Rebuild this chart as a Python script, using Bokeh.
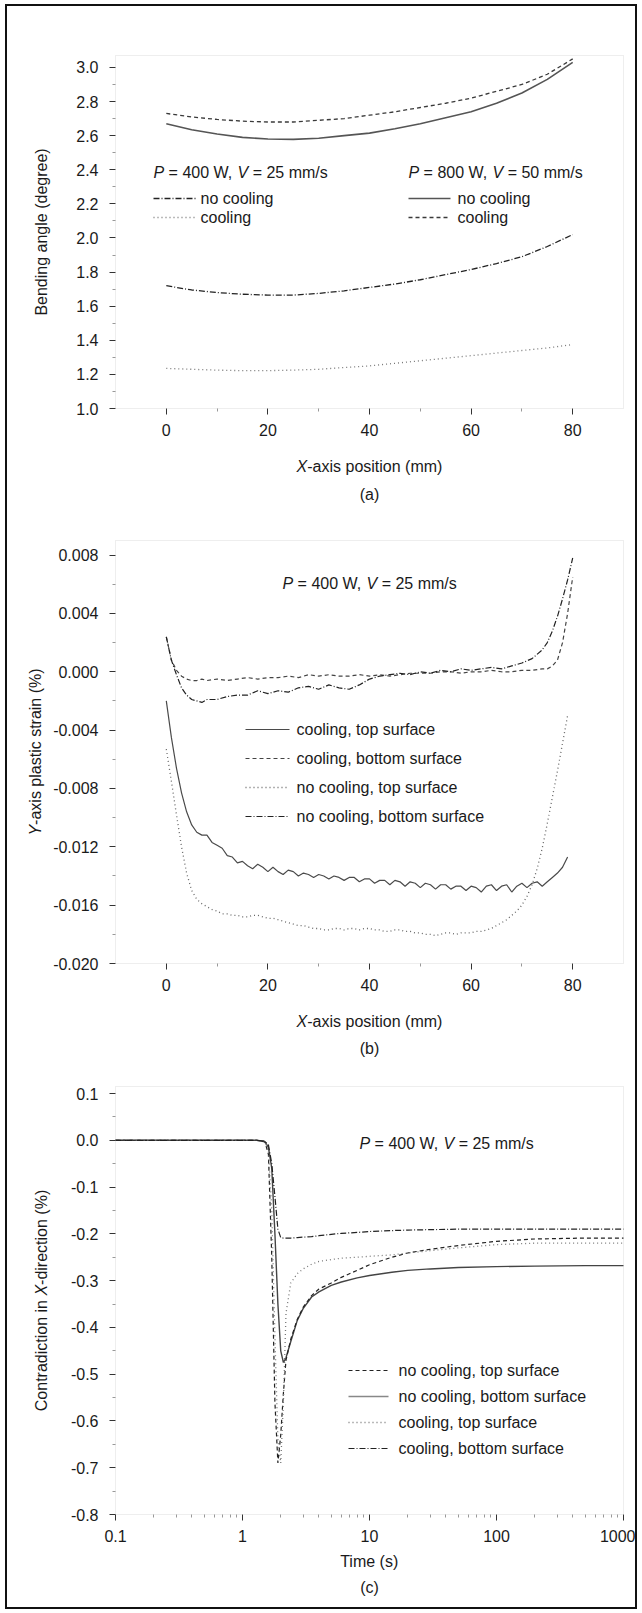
import math
from bokeh.plotting import figure
from bokeh.layouts import column
from bokeh.models import (Label, Range1d, FixedTicker, PrintfTickFormatter,
                          CustomJSTickFormatter, BoxAnnotation)
from bokeh.embed import file_html
from bokeh.resources import INLINE

FONT = "Liberation Sans"
FS = 16
TXT = "#1a1a1a"

# ---------------- data: panel (a) ----------------
xa = [0, 5, 10, 15, 20, 25, 30, 35, 40, 45, 50, 55, 60, 65, 70, 75, 80]
a_800_cool = [2.73, 2.71, 2.695, 2.685, 2.68, 2.68, 2.69, 2.70, 2.72, 2.74, 2.765, 2.79, 2.82, 2.86, 2.90, 2.96, 3.05]
a_800_nocool = [2.67, 2.635, 2.61, 2.59, 2.58, 2.578, 2.585, 2.60, 2.615, 2.64, 2.67, 2.705, 2.74, 2.79, 2.85, 2.93, 3.03]
a_400_nocool = [1.72, 1.695, 1.68, 1.67, 1.665, 1.665, 1.675, 1.69, 1.71, 1.73, 1.755, 1.785, 1.815, 1.85, 1.89, 1.95, 2.02]
a_400_cool = [1.235, 1.23, 1.225, 1.222, 1.222, 1.225, 1.23, 1.24, 1.25, 1.265, 1.28, 1.295, 1.31, 1.325, 1.34, 1.355, 1.375]
a_xticks = [0, 20, 40, 60, 80]
a_xminor = [10, 30, 50, 70]
a_yticks = [1.0, 1.2, 1.4, 1.6, 1.8, 2.0, 2.2, 2.4, 2.6, 2.8, 3.0]
a_yminor = [1.1, 1.3, 1.5, 1.7, 1.9, 2.1, 2.3, 2.5, 2.7, 2.9]

# ---------------- data: panel (b) ----------------
xb_up = [0, 1, 2, 3, 4, 5, 6, 7, 8,
         10, 12, 14, 16, 18, 20, 22, 24, 26, 28, 30, 32, 34, 36, 38, 40, 42, 44, 46, 48, 50,
         52, 54, 56, 58, 60, 62, 64, 66, 68, 70, 72, 74,
         75, 76, 77, 78, 79, 80]
b_cool_bottom = [0.0024, 0.0008, 0.0001, -0.0003, -0.0005, -0.0006, -0.0006, -0.0005, -0.0006,
                 -0.0005, -0.0006, -0.0005, -0.0004, -0.0005, -0.0004, -0.0004, -0.0003, -0.0004, -0.0002,
                 -0.0003, -0.0002, -0.0003, -0.0003, -0.0002, -0.0003, -0.0002, -0.0003, -0.0002, -0.0001,
                 -0.0001, -0.0001, 0.0, 0.0, -0.0001, 0.0, 0.0, 0.0001, 0.0, 0.0, 0.0001, 0.0001, 0.0002,
                 0.0002, 0.0004, 0.0008, 0.0020, 0.0040, 0.0065]
b_nocool_bottom = [0.0024, 0.0008, -0.0002, -0.0011, -0.0016, -0.0019, -0.0020, -0.0021, -0.0019,
                   -0.0019, -0.0017, -0.0016, -0.0016, -0.0013, -0.0015, -0.0013, -0.0014, -0.0011, -0.0010,
                   -0.0012, -0.0009, -0.0011, -0.0012, -0.0009, -0.0005, -0.0003, -0.0002, -0.0001, -0.0002,
                   0.0, -0.0001, 0.0001, 0.0, 0.0002, 0.0001, 0.0002, 0.0003, 0.0002, 0.0004, 0.0006, 0.0009,
                   0.0015, 0.0020, 0.0028, 0.0038, 0.0050, 0.0063, 0.0078]
xb_lo = list(range(0, 80))
b_cool_top = [-0.0020, -0.0045, -0.0066, -0.0083, -0.0096, -0.0105, -0.0110, -0.0112, -0.0112, -0.0117,
              -0.0119, -0.0121, -0.0126, -0.0127, -0.0131, -0.0130, -0.0133, -0.0135, -0.0132, -0.0134,
              -0.0137, -0.0134, -0.0137, -0.0139, -0.0136, -0.0137, -0.0140, -0.0138, -0.0139, -0.0141,
              -0.0139, -0.0140, -0.0142, -0.0140, -0.0141, -0.0143, -0.0141, -0.0141, -0.0144, -0.0142,
              -0.0142, -0.0145, -0.0143, -0.0143, -0.0146, -0.0143, -0.0144, -0.0147, -0.0144, -0.0145,
              -0.0148, -0.0145, -0.0146, -0.0149, -0.0146, -0.0146, -0.0149, -0.0147, -0.0147, -0.0150,
              -0.0147, -0.0148, -0.0151, -0.0147, -0.0146, -0.0150, -0.0147, -0.0146, -0.0151, -0.0147,
              -0.0145, -0.0148, -0.0145, -0.0144, -0.0147, -0.0144, -0.0141, -0.0138, -0.0134, -0.0127]
b_nocool_top = [-0.0053, -0.0075, -0.0098, -0.0120, -0.0138, -0.0150, -0.0156, -0.0159, -0.0161, -0.0163,
                -0.0164, -0.0166, -0.0166, -0.0167, -0.0167, -0.0168, -0.0168, -0.0167, -0.0167, -0.0168,
                -0.0169, -0.0169, -0.0170, -0.0171, -0.0172, -0.0173, -0.0174, -0.0174, -0.0175, -0.0176,
                -0.0176, -0.0177, -0.0177, -0.0176, -0.0176, -0.0177, -0.0176, -0.0176, -0.0177, -0.0176,
                -0.0176, -0.0177, -0.0177, -0.0178, -0.0178, -0.0177, -0.0177, -0.0178, -0.0178, -0.0179,
                -0.0179, -0.0180, -0.0180, -0.0181, -0.0180, -0.0179, -0.0179, -0.0180, -0.0179, -0.0179,
                -0.0179, -0.0178, -0.0178, -0.0177, -0.0176, -0.0174, -0.0172, -0.0170, -0.0167, -0.0164,
                -0.0160, -0.0154, -0.0146, -0.0135, -0.0121, -0.0104, -0.0086, -0.0068, -0.0049, -0.0030]
b_yticks = [-0.020, -0.016, -0.012, -0.008, -0.004, 0.000, 0.004, 0.008]
b_yminor = [-0.018, -0.014, -0.010, -0.006, -0.002, 0.002, 0.006]

# ---------------- data: panel (c) ----------------
tc = [0.1, 0.2, 0.5, 1.0, 1.3, 1.5, 1.6, 1.7, 1.8, 1.9, 2.0, 2.1, 2.2, 2.4, 2.7, 3.0, 3.5, 4.0,
      5.0, 6.0, 8.0, 10, 15, 20, 30, 50, 100, 200, 500, 1000]
c_nocool_top = [0, 0, 0, 0, 0, -0.003, -0.03, -0.25, -0.56, -0.69, -0.63, -0.54, -0.47, -0.425, -0.383,
                -0.357, -0.332, -0.318, -0.305, -0.293, -0.278, -0.266, -0.25, -0.241, -0.233, -0.225,
                -0.216, -0.211, -0.209, -0.209]
c_nocool_bottom = [0, 0, 0, 0, 0, -0.003, -0.015, -0.06, -0.20, -0.35, -0.45, -0.475, -0.465, -0.43,
                   -0.385, -0.36, -0.335, -0.324, -0.31, -0.303, -0.294, -0.289, -0.282, -0.278, -0.275,
                   -0.272, -0.270, -0.269, -0.268, -0.268]
c_cool_top = [0, 0, 0, 0, 0, -0.003, -0.02, -0.15, -0.42, -0.64, -0.69, -0.56, -0.37, -0.305, -0.285,
              -0.275, -0.265, -0.259, -0.255, -0.252, -0.25, -0.248, -0.245, -0.241, -0.236, -0.23,
              -0.223, -0.22, -0.22, -0.22]
c_cool_bottom = [0, 0, 0, 0, 0, -0.002, -0.01, -0.05, -0.12, -0.19, -0.208, -0.209, -0.209, -0.209,
                 -0.208, -0.207, -0.206, -0.204, -0.201, -0.199, -0.197, -0.195, -0.193, -0.192, -0.191,
                 -0.19, -0.19, -0.19, -0.19, -0.19]
c_xticks = [0.1, 1, 10, 100, 1000]
c_xminor = [m * d for d in (0.1, 1, 10, 100) for m in range(2, 10)]
c_yticks = [-0.8, -0.7, -0.6, -0.5, -0.4, -0.3, -0.2, -0.1, 0.0, 0.1]
c_yminor = [-0.75, -0.65, -0.55, -0.45, -0.35, -0.25, -0.15, -0.05, 0.05]

# ---------------- styles ----------------
SOLID = dict(line_dash="solid")
DASH = dict(line_dash="4 3")
DOT = dict(line_dash="1 3")
DASHDOT = dict(line_dash="6 2 1 2")
BOXC = "#8a8a8a"

AW = {' ': 278, '(': 333, ')': 333, '%': 889, ',': 278, '-': 333, '.': 278, '/': 278, '=': 584}
for _d in "0123456789":
    AW[_d] = 556
for _c, _w in zip("ABCDEFGHIJKLMNOPQRSTUVWXYZ",
                  [667, 667, 722, 722, 667, 611, 778, 722, 278, 500, 667, 556, 833, 722, 778, 667,
                   778, 722, 667, 611, 722, 667, 944, 667, 667, 611]):
    AW[_c] = _w
for _c, _w in zip("abcdefghijklmnopqrstuvwxyz",
                  [556, 556, 500, 556, 556, 278, 556, 556, 222, 222, 500, 222, 833, 556, 556, 556,
                   556, 333, 500, 278, 556, 500, 722, 500, 500, 500]):
    AW[_c] = _w


def tw(s, size=FS):
    return sum(AW.get(c, 556) for c in s) / 1000.0 * size


# page geometry: figure column starts at page x=7; every figure is FIGW wide
PX0 = 7
FIGW = 628


class Panel:
    """Maps page pixels to data, given the page position of the plot box."""

    def __init__(self, fig_top, fig_h, box, xlim, ylim, logx=False):
        self.fig_top, self.fig_h = fig_top, fig_h
        self.bl, self.br, self.bt, self.bb = box
        self.x0, self.x1 = xlim
        self.y0, self.y1 = ylim
        self.logx = logx

    def _fx(self, v):
        return math.log10(v) if self.logx else v

    def _ifx(self, v):
        return 10 ** v if self.logx else v

    def dx(self, px):
        a, b = self._fx(self.x0), self._fx(self.x1)
        return self._ifx(a + (px - self.bl) * (b - a) / (self.br - self.bl))

    def dy(self, py):
        return self.y0 + (self.bb - py) * (self.y1 - self.y0) / (self.bb - self.bt)

    def xrange(self):
        return Range1d(self.dx(PX0), self.dx(PX0 + FIGW))

    def yrange(self):
        return Range1d(self.dy(self.fig_top + self.fig_h), self.dy(self.fig_top))


def rich(p, P, parts, px, py, align="center", angle=0.0, size=FS):
    total = sum(tw(t, size) for t, _ in parts)
    off = -total / 2 if align == "center" else 0.0
    xd, yd = P.dx(px), P.dy(py)
    for t, it in parts:
        lead = len(t) - len(t.lstrip(" "))
        o = off + tw(" " * lead, size)
        kw = dict(x=xd, y=yd, text=t.strip(" "), text_align="left", text_baseline="middle",
                  text_font=FONT, text_font_size=f"{size}px", text_color=TXT,
                  text_font_style="italic" if it else "normal")
        if angle == 0:
            p.add_layout(Label(x_offset=o, y_offset=0, **kw))
        else:
            p.add_layout(Label(x_offset=0, y_offset=o, angle=angle, **kw))
        off += tw(t, size)


def sample(p, P, x0px, x1px, ypx, color, width, style):
    p.line([P.dx(x0px), P.dx(x1px)], [P.dy(ypx), P.dy(ypx)], line_color=color,
           line_width=width, **style)


def mkfig(P, xticks, xminor, yticks, yminor, yfmt, xtype="linear"):
    p = figure(width=FIGW, height=P.fig_h, min_border=0, x_range=P.xrange(), y_range=P.yrange(),
               x_axis_type=xtype, output_backend="svg", toolbar_location=None, tools="")
    p.title.visible = False
    p.grid.visible = False
    p.outline_line_color = None
    p.background_fill_color = "white"
    p.border_fill_color = "white"
    p.xaxis[0].fixed_location = P.y0
    p.yaxis[0].fixed_location = P.x0
    p.xaxis[0].ticker = FixedTicker(ticks=xticks, minor_ticks=xminor)
    p.yaxis[0].ticker = FixedTicker(ticks=yticks, minor_ticks=yminor)
    p.yaxis[0].formatter = PrintfTickFormatter(format=yfmt)
    if xtype == "log":
        p.xaxis[0].formatter = CustomJSTickFormatter(code="return String(tick);")
    else:
        p.xaxis[0].formatter = PrintfTickFormatter(format="%d")
    for ax in (p.xaxis[0], p.yaxis[0]):
        ax.axis_line_color = None
        ax.major_tick_line_color = "#333333"
        ax.minor_tick_line_color = "#999999"
        ax.major_tick_out = 6
        ax.major_tick_in = 0
        ax.minor_tick_out = 3
        ax.minor_tick_in = 0
        ax.major_label_text_font = FONT
        ax.major_label_text_font_size = f"{FS}px"
        ax.major_label_text_color = TXT
    p.xaxis[0].major_label_standoff = 9
    p.yaxis[0].major_label_standoff = 11
    p.add_layout(BoxAnnotation(left=P.x0, right=P.x1, bottom=P.y0, top=P.y1,
                               fill_color=None, line_color=BOXC, line_width=1, line_dash="1 1"))
    return p


# ---------------- panel (a) ----------------
PA = Panel(6, 514, (115, 623, 55, 408), (-10, 90), (1.0, 3.07))
pa = mkfig(PA, a_xticks, a_xminor, a_yticks, a_yminor, "%.1f")

pa.line(xa, a_800_cool, line_color="#3a3a3a", line_width=1.3, **DASH)
pa.line(xa, a_800_nocool, line_color="#555555", line_width=1.6, **SOLID)
pa.line(xa, a_400_nocool, line_color="#222222", line_width=1.3, **DASHDOT)
pa.line(xa, a_400_cool, line_color="#777777", line_width=1.3, **DOT)

rich(pa, PA, [("P", True), (" = 400 W, ", False), ("V", True), (" = 25 mm/s", False)], 153, 172, align="left")
rich(pa, PA, [("P", True), (" = 800 W, ", False), ("V", True), (" = 50 mm/s", False)], 408, 172, align="left")
sample(pa, PA, 153, 195, 198, "#222222", 1.3, DASHDOT)
sample(pa, PA, 153, 195, 217, "#777777", 1.3, DOT)
sample(pa, PA, 408, 450, 198, "#555555", 1.6, SOLID)
sample(pa, PA, 408, 450, 217, "#3a3a3a", 1.3, DASH)
rich(pa, PA, [("no cooling", False)], 200, 198, align="left")
rich(pa, PA, [("cooling", False)], 200, 217, align="left")
rich(pa, PA, [("no cooling", False)], 457, 198, align="left")
rich(pa, PA, [("cooling", False)], 457, 217, align="left")
rich(pa, PA, [("X", True), ("-axis position (mm)", False)], 369, 466)
rich(pa, PA, [("(a)", False)], 369, 494)
rich(pa, PA, [("Bending angle (degree)", False)], 41, 231.5, angle=math.pi / 2)

# ---------------- panel (b) ----------------
PB = Panel(520, 550, (115, 623, 540, 963), (-10, 90), (-0.020, 0.009))
pb = mkfig(PB, a_xticks, a_xminor, b_yticks, b_yminor, "%.3f")

pb.line(xb_lo, b_cool_top, line_color="#4a4a4a", line_width=1.2, **SOLID)
pb.line(xb_up, b_cool_bottom, line_color="#444444", line_width=1.2, **DASH)
pb.line(xb_lo, b_nocool_top, line_color="#666666", line_width=1.3, **DOT)
pb.line(xb_up, b_nocool_bottom, line_color="#222222", line_width=1.2, **DASHDOT)

rich(pb, PB, [("P", True), (" = 400 W, ", False), ("V", True), (" = 25 mm/s", False)], 282, 583, align="left")
b_leg = [("cooling, top surface", "#4a4a4a", 1.2, SOLID),
         ("cooling, bottom surface", "#444444", 1.2, DASH),
         ("no cooling, top surface", "#666666", 1.3, DOT),
         ("no cooling, bottom surface", "#222222", 1.2, DASHDOT)]
for i, (lab, col, lw, st) in enumerate(b_leg):
    ypx = 729 + i * 29
    sample(pb, PB, 245, 289, ypx, col, lw, st)
    rich(pb, PB, [(lab, False)], 296, ypx, align="left")
rich(pb, PB, [("X", True), ("-axis position (mm)", False)], 369, 1021)
rich(pb, PB, [("(b)", False)], 369, 1048)
rich(pb, PB, [("Y", True), ("-axis plastic strain (%)", False)], 35, 751.5, angle=math.pi / 2)

# ---------------- panel (c) ----------------
PC = Panel(1070, 537, (115, 623, 1086, 1514), (0.1, 1000), (-0.8, 0.115), logx=True)
pc = mkfig(PC, c_xticks, c_xminor, c_yticks, c_yminor, "%.1f", xtype="log")

pc.line(tc, c_nocool_bottom, line_color="#444444", line_width=1.4, **SOLID)
pc.line(tc, c_nocool_top, line_color="#222222", line_width=1.2, **DASH)
pc.line(tc, c_cool_top, line_color="#777777", line_width=1.3, **DOT)
pc.line(tc, c_cool_bottom, line_color="#222222", line_width=1.2, **DASHDOT)

rich(pc, PC, [("P", True), (" = 400 W, ", False), ("V", True), (" = 25 mm/s", False)], 359, 1143, align="left")
c_leg = [("no cooling, top surface", "#222222", 1.2, DASH),
         ("no cooling, bottom surface", "#888888", 1.4, SOLID),
         ("cooling, top surface", "#777777", 1.3, DOT),
         ("cooling, bottom surface", "#222222", 1.2, DASHDOT)]
for i, (lab, col, lw, st) in enumerate(c_leg):
    ypx = 1370 + i * 26
    sample(pc, PC, 348, 388, ypx, col, lw, st)
    rich(pc, PC, [(lab, False)], 398, ypx, align="left")
rich(pc, PC, [("Time (s)", False)], 369, 1561)
rich(pc, PC, [("(c)", False)], 369, 1587)
rich(pc, PC, [("Contradiction in ", False), ("X", True), ("-direction (%)", False)], 41, 1300,
     angle=math.pi / 2)

layout = column(pa, pb, pc, spacing=0, margin=(4, 0, 0, 5),
                styles={"border": "2px solid #111111"})

open("out.html", "w").write(file_html(layout, INLINE))
